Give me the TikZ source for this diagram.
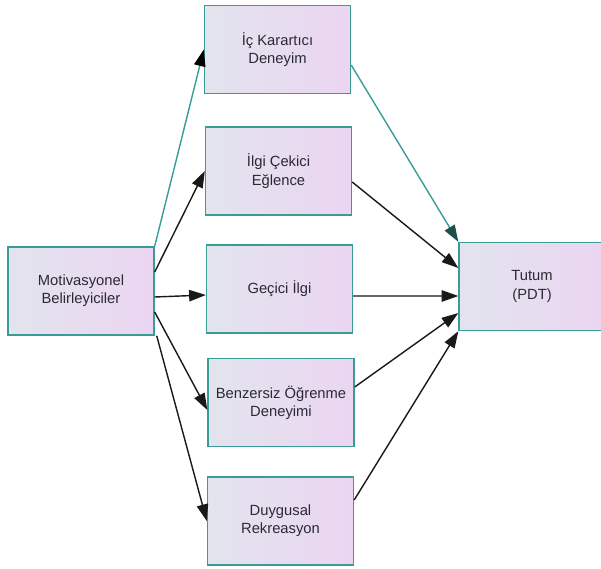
\documentclass[tikz,border=0pt]{standalone}
\usepackage{fontspec}
\setmainfont{Liberation Sans}
\usetikzlibrary{arrows.meta, positioning}
\usepackage{xcolor}

\definecolor{boxline}{HTML}{3A9C97}
\definecolor{boxleft}{HTML}{E2E4EE}
\definecolor{boxright}{HTML}{EBD5F1}
\definecolor{labeltext}{HTML}{2A2A33}
\definecolor{darkteal}{HTML}{1D4F4B}

\tikzset{
    factor/.style={draw=boxline, line width=0.8pt, left color=boxleft, right color=boxright,
        minimum width=2.92cm, minimum height=1.76cm, inner sep=0pt, align=center,
        text=labeltext, font=\fontsize{8.4}{10.4}\selectfont},
    link/.style={-{Triangle[length=9.5pt, width=6.5pt]}, line width=0.8pt, black!90},
    tealink/.style={line width=0.8pt, boxline},
}

\begin{document}
\begin{tikzpicture}[x=0.02cm, y=-0.02cm]

    \clip (0,0) rectangle (601,568);

    \node[factor] (mot) at (81,291) {Motivasyonel\\Belirleyiciler};
    \node[factor] (ick) at (277.5,49.5) {İç Karartıcı\\Deneyim};
    \node[factor] (ilgi) at (278.5,171) {İlgi Çekici\\Eğlence};
    \node[factor] (gec) at (279.5,289) {Geçici İlgi};
    \node[factor] (benz) at (281,402.5) {Benzersiz Öğrenme\\Deneyimi};
    \node[factor] (duyg) at (280.5,521) {Duygusal\\Rekreasyon};
    \node[factor] (tutum) at (532,286.5) {Tutum\\(PDT)};

    % sol taraf
    \draw[tealink, -{Triangle[length=9.5pt, width=6.5pt, color=black]}] (mot.north east) -- (ick.west);
    \draw[link] ([yshift=0.38cm]mot.east) -- (ilgi.west);
    \draw[link] ([yshift=-0.12cm]mot.east) -- ([yshift=-0.12cm]gec.west);
    \draw[link] ([yshift=-0.42cm]mot.east) -- ([yshift=-0.15cm]benz.west);
    \draw[link] ([xshift=0.04cm]mot.south east) -- (duyg.west);

    % sag taraf
    \draw[tealink, -{Triangle[length=9.5pt, width=6.5pt, color=darkteal]}] ([yshift=-0.31cm]ick.east) -- (tutum.north west);
    \draw[link] ([yshift=-0.22cm]ilgi.east) -- ([yshift=0.37cm]tutum.west);
    \draw[link] ([yshift=-0.14cm]gec.east) -- ([yshift=-0.19cm]tutum.west);
    \draw[link] ([yshift=0.31cm]benz.east) -- ([yshift=-0.53cm]tutum.west);
    \draw[link] ([yshift=0.42cm]duyg.east) -- (tutum.south west);
\end{tikzpicture}
\end{document}
